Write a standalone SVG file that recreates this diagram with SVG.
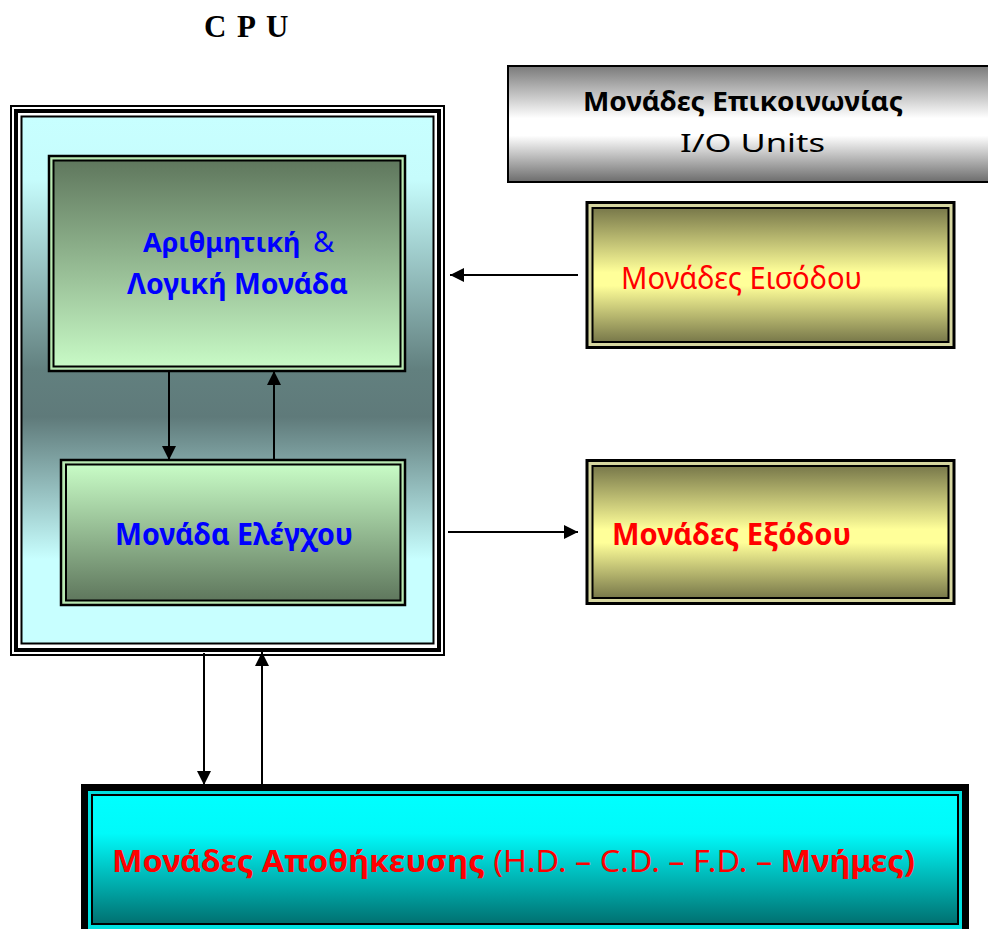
<svg xmlns="http://www.w3.org/2000/svg" width="988" height="929" viewBox="0 0 988 929">
  <defs>
    <linearGradient id="gCpu" x1="0" y1="0" x2="0" y2="1">
      <stop offset="0" stop-color="#c8ffff"/>
      <stop offset="0.12" stop-color="#c6fcfc"/>
      <stop offset="0.48" stop-color="#62807f"/>
      <stop offset="0.57" stop-color="#5f7a7a"/>
      <stop offset="0.84" stop-color="#c8ffff"/>
      <stop offset="1" stop-color="#c8ffff"/>
    </linearGradient>
    <linearGradient id="gAlu" x1="0" y1="0" x2="0" y2="1">
      <stop offset="0" stop-color="#5f775d"/>
      <stop offset="1" stop-color="#c8fac6"/>
    </linearGradient>
    <linearGradient id="gCtl" x1="0" y1="0" x2="0" y2="1">
      <stop offset="0" stop-color="#c8fcc6"/>
      <stop offset="1" stop-color="#5f775d"/>
    </linearGradient>
    <linearGradient id="gYel" x1="0" y1="0" x2="0" y2="1">
      <stop offset="0" stop-color="#78784a"/>
      <stop offset="0.48" stop-color="#ffff99"/>
      <stop offset="0.58" stop-color="#ffff99"/>
      <stop offset="1" stop-color="#78784a"/>
    </linearGradient>
    <linearGradient id="gGray" x1="0" y1="0" x2="0" y2="1">
      <stop offset="0" stop-color="#7a7a7a"/>
      <stop offset="0.45" stop-color="#ffffff"/>
      <stop offset="0.6" stop-color="#ffffff"/>
      <stop offset="1" stop-color="#6c6c6c"/>
    </linearGradient>
    <linearGradient id="gCyan" x1="0" y1="0" x2="0" y2="1">
      <stop offset="0" stop-color="#00ffff"/>
      <stop offset="0.3" stop-color="#00fafa"/>
      <stop offset="1" stop-color="#007070"/>
    </linearGradient>
    <marker id="arrow" viewBox="0 0 14 14" refX="14" refY="7" markerWidth="14" markerHeight="14" markerUnits="userSpaceOnUse" orient="auto">
      <path d="M0,0 L14,7 L0,14 z" fill="#000"/>
    </marker>
  </defs>
  <style>
    .t { font-family: "Noto Sans", "DejaVu Sans", sans-serif; font-size: 31px; }
    .m { font-size: 29px; }
    .k { font-size: 27px; }
    .s { font-size: 26px; }
    .b { font-weight: bold; }
    .blue { fill: #0000ff; }
    .red { fill: #ff0000; }
    .blk { fill: #000000; }
    .conn path { fill: none; stroke: #000; stroke-width: 2; marker-end: url(#arrow); }
  </style>

  <rect width="988" height="929" fill="#ffffff"/>

  <!-- CPU title -->
  <g id="cpu-title" font-family="'Liberation Serif', 'Times New Roman', serif" font-weight="bold" font-size="31" fill="#000">
    <text x="204" y="37">C</text>
    <text x="237" y="37">P</text>
    <text x="266" y="37">U</text>
  </g>

  <!-- CPU enclosure -->
  <g id="cpu">
    <rect x="11" y="106" width="433" height="549" fill="#fff" stroke="#000" stroke-width="2"/>
    <rect x="16" y="111" width="423" height="539" fill="#fff" stroke="#000" stroke-width="4"/>
    <rect x="21.5" y="116.5" width="412" height="527" fill="url(#gCpu)" stroke="#000" stroke-width="2"/>
  </g>

  <!-- Arithmetic & logic unit -->
  <g id="alu">
    <rect x="49" y="156" width="356" height="215" fill="#b8e8b2" stroke="#000" stroke-width="2.5"/>
    <rect x="53.5" y="160.5" width="347" height="206" fill="url(#gAlu)" stroke="#000" stroke-width="2"/>
    <text class="t k b blue" x="143" y="252">Αριθμητική</text>
    <text class="t m blue" x="313" y="252">&amp;</text>
    <text class="t m b blue" x="127" y="294" textLength="221" lengthAdjust="spacingAndGlyphs">Λογική Μονάδα</text>
  </g>

  <!-- Control unit -->
  <g id="control">
    <rect x="61" y="460" width="344" height="145" fill="#b8e8b2" stroke="#000" stroke-width="2.5"/>
    <rect x="66" y="464.5" width="334.5" height="136" fill="url(#gCtl)" stroke="#000" stroke-width="2"/>
    <text class="t b blue" x="115" y="545" textLength="238" lengthAdjust="spacingAndGlyphs">Μονάδα Ελέγχου</text>
  </g>

  <!-- Communication (I/O) units header -->
  <g id="io-units">
    <rect x="508" y="66" width="490" height="116" fill="url(#gGray)" stroke="#000" stroke-width="2"/>
    <text class="t s b blk" x="583" y="111" textLength="320" lengthAdjust="spacingAndGlyphs">Μονάδες Επικοινωνίας</text>
    <text class="t s blk" x="680" y="152" textLength="145" lengthAdjust="spacingAndGlyphs">I/O Units</text>
  </g>

  <!-- Input units -->
  <g id="input">
    <rect x="587" y="202.5" width="367" height="145" fill="#d6d6a0" stroke="#000" stroke-width="3"/>
    <rect x="592.5" y="208" width="356" height="134" fill="url(#gYel)" stroke="#000" stroke-width="2"/>
    <text class="t red" x="621" y="289" textLength="241" lengthAdjust="spacingAndGlyphs">Μονάδες Εισόδου</text>
  </g>

  <!-- Output units -->
  <g id="output">
    <rect x="587" y="460.5" width="367" height="143" fill="#d6d6a0" stroke="#000" stroke-width="3"/>
    <rect x="592.5" y="466" width="356" height="132" fill="url(#gYel)" stroke="#000" stroke-width="2"/>
    <text class="t b red" x="612" y="545" textLength="239" lengthAdjust="spacingAndGlyphs">Μονάδες Εξόδου</text>
  </g>

  <!-- Storage units -->
  <g id="storage">
    <rect x="84.5" y="787.5" width="881" height="150" fill="#00e0e0" stroke="#000" stroke-width="7"/>
    <rect x="92" y="795" width="866" height="129" fill="url(#gCyan)" stroke="#000" stroke-width="2"/>
    <text class="t red" x="112" y="872" textLength="803" lengthAdjust="spacingAndGlyphs"><tspan class="b">Μονάδες Αποθήκευσης</tspan> (H.D. – C.D. – F.D. – <tspan class="b">Μνήμες)</tspan></text>
  </g>

  <!-- Connectors -->
  <g id="connectors" class="conn">
    <path d="M578,275 L450,275"/>
    <path d="M448,532 L578,532"/>
    <path d="M169,371 L169,460"/>
    <path d="M274,460 L274,371"/>
    <path d="M204,653 L204,785"/>
    <path d="M262,785 L262,652"/>
  </g>
</svg>
